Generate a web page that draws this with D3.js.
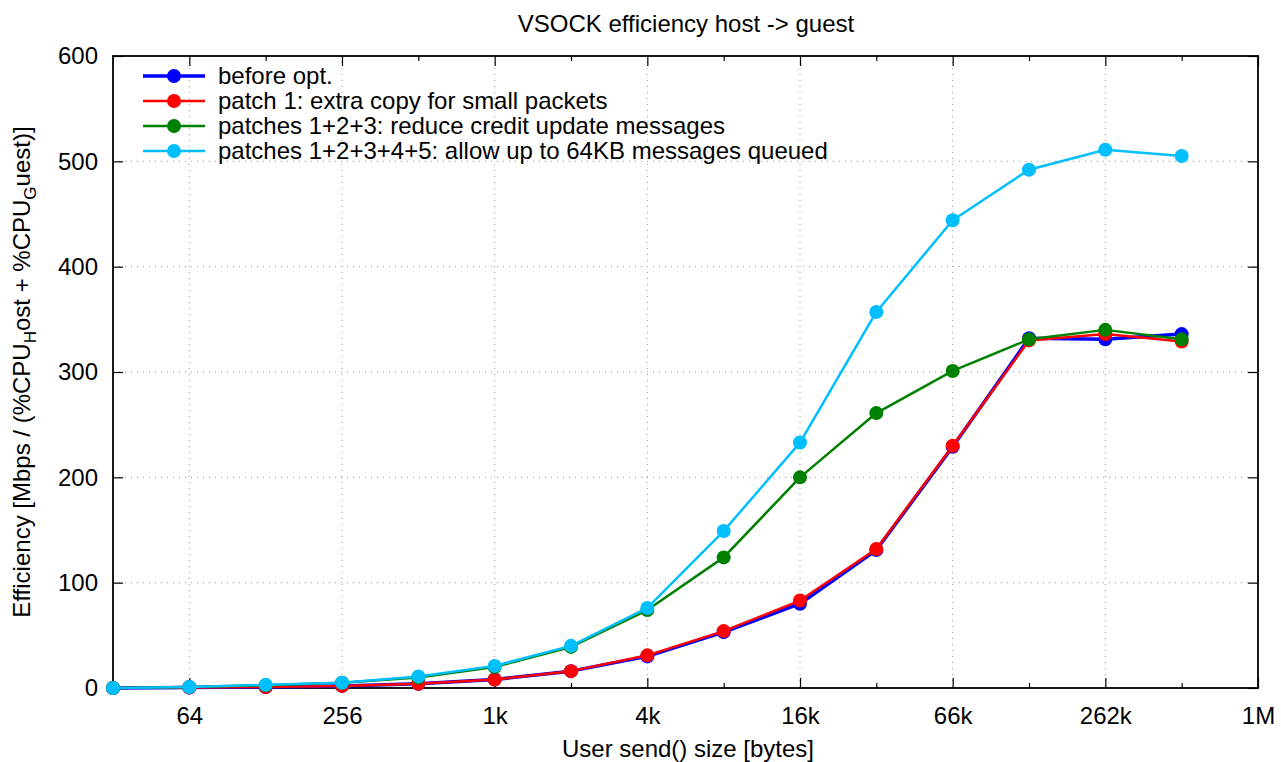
<!DOCTYPE html>
<html><head><meta charset="utf-8">
<script src="https://cdn.jsdelivr.net/npm/d3@7"></script>
<style>body{margin:0;background:#fff;} svg{display:block;} text{font-family:"Liberation Sans",Arial,sans-serif;fill:#000;}</style>
</head><body><svg id="c" width="1281" height="762"></svg>
<script>
const sizes = [32,64,128,256,512,1024,2048,4096,8192,16384,32768,65536,131072,262144,524288];
const beforeOpt = [0,0.5,1,2,4,8,16,30,53,80,131,229,332,331,336];
const patch1 = [0,0.5,1,2,4,8,16,31,54,83,132,230,330,336,329];
const patches123 = [0,1,2.5,5,10,20,39,74,124,200,261,301,331,340,331];
const patches12345 = [0,1,3,5,11,21,40,76,149,233,357,444,492,511,505];
const seriesNames = ["before opt.","patch 1: extra copy for small packets","patches 1+2+3: reduce credit update messages","patches 1+2+3+4+5: allow up to 64KB messages queued"];
const seriesColors = ["#0000ff","#ff0000","#008000","#00bfff"];
const seriesWidths = [3.5,2.5,2.5,2.5];
const xMajorTicks = [64,256,1024,4096,16384,65536,262144,1048576];
const xMajorLabels = ["64","256","1k","4k","16k","66k","262k","1M"];
const xMinorTicks = [128,512,2048,8192,32768,131072,524288];
const yTicks = [0,100,200,300,400,500,600];

const svg = d3.select("#c");
const L=113,R=1258,T=56,B=688;
const FS=24;
const x = d3.scaleLog().base(2).domain([32,1048576]).range([L,R]);
const y = d3.scaleLinear().domain([0,600]).range([B,T]);

// grid
const g = svg.append("g");
g.selectAll(".gx").data(xMajorTicks.slice(0,-1)).enter().append("line")
 .attr("x1",d=>x(d)).attr("x2",d=>x(d)).attr("y1",T).attr("y2",B)
 .attr("stroke","#999").attr("stroke-width",1).attr("stroke-dasharray","1,5");
g.selectAll(".gy").data(yTicks.slice(1,-1)).enter().append("line")
 .attr("x1",L).attr("x2",R).attr("y1",d=>y(d)).attr("y2",d=>y(d))
 .attr("stroke","#999").attr("stroke-width",1).attr("stroke-dasharray","1,5");

// axes via d3
svg.append("g").attr("transform",`translate(0,${B})`)
 .call(d3.axisBottom(x).tickValues(xMajorTicks).tickFormat((d,i)=>xMajorLabels[i]).tickSizeInner(-10).tickSizeOuter(0).tickPadding(19));
svg.append("g").attr("transform",`translate(0,${B})`)
 .call(d3.axisBottom(x).tickValues(xMinorTicks).tickFormat("").tickSizeInner(-5).tickSizeOuter(0));
svg.append("g").attr("transform",`translate(0,${T})`)
 .call(d3.axisTop(x).tickValues(xMajorTicks).tickFormat("").tickSizeInner(-10).tickSizeOuter(0));
svg.append("g").attr("transform",`translate(0,${T})`)
 .call(d3.axisTop(x).tickValues(xMinorTicks).tickFormat("").tickSizeInner(-5).tickSizeOuter(0));
svg.append("g").attr("transform",`translate(${L},0)`)
 .call(d3.axisLeft(y).tickValues(yTicks).tickSizeInner(-10).tickSizeOuter(0).tickPadding(15));
svg.append("g").attr("transform",`translate(${R},0)`)
 .call(d3.axisRight(y).tickValues(yTicks).tickFormat("").tickSizeInner(-10).tickSizeOuter(0));
svg.selectAll(".domain").remove();
svg.selectAll(".tick line").attr("stroke","#000").attr("stroke-width",1.2);
svg.selectAll(".tick text").attr("font-size",FS).attr("font-family","Liberation Sans, Arial, sans-serif").attr("fill","#000");

svg.append("rect").attr("x",L).attr("y",T).attr("width",R-L).attr("height",B-T)
 .attr("fill","none").attr("stroke","#000").attr("stroke-width",1.8);

// series
const allSeries = [beforeOpt,patch1,patches123,patches12345];
const line = d3.line().x((d,i)=>x(sizes[i])).y(d=>y(d));
allSeries.forEach((vals,k)=>{
  const sg = svg.append("g");
  sg.append("path").datum(vals).attr("d",line).attr("fill","none")
    .attr("stroke",seriesColors[k]).attr("stroke-width",seriesWidths[k]).attr("stroke-linejoin","round");
  sg.selectAll("circle").data(vals).enter().append("circle")
    .attr("cx",(d,i)=>x(sizes[i])).attr("cy",d=>y(d)).attr("r",7).attr("fill",seriesColors[k]);
});

// legend
const lg = svg.append("g");
seriesNames.forEach((n,k)=>{
  const yy = 76 + k*25;
  lg.append("line").attr("x1",143).attr("x2",205).attr("y1",yy).attr("y2",yy)
    .attr("stroke",seriesColors[k]).attr("stroke-width",seriesWidths[k]);
  lg.append("circle").attr("cx",174).attr("cy",yy).attr("r",7).attr("fill",seriesColors[k]);
  lg.append("text").attr("x",218).attr("y",yy+8).attr("font-size",FS).text(n);
});

// title & labels
svg.append("text").attr("x",686).attr("y",32).attr("text-anchor","middle").attr("font-size",FS).text("VSOCK efficiency host -> guest");
svg.append("text").attr("x",688).attr("y",757).attr("text-anchor","middle").attr("font-size",FS).text("User send() size [bytes]");
const yt = svg.append("text").attr("transform","translate(30,372) rotate(-90)").attr("text-anchor","middle").attr("font-size",FS);
yt.append("tspan").text("Efficiency [Mbps / (%CPU");
yt.append("tspan").attr("font-size",17).attr("dy",6).text("H");
yt.append("tspan").attr("dy",-6).text("ost + %CPU");
yt.append("tspan").attr("font-size",17).attr("dy",6).text("G");
yt.append("tspan").attr("dy",-6).text("uest)]");
</script></body></html>
